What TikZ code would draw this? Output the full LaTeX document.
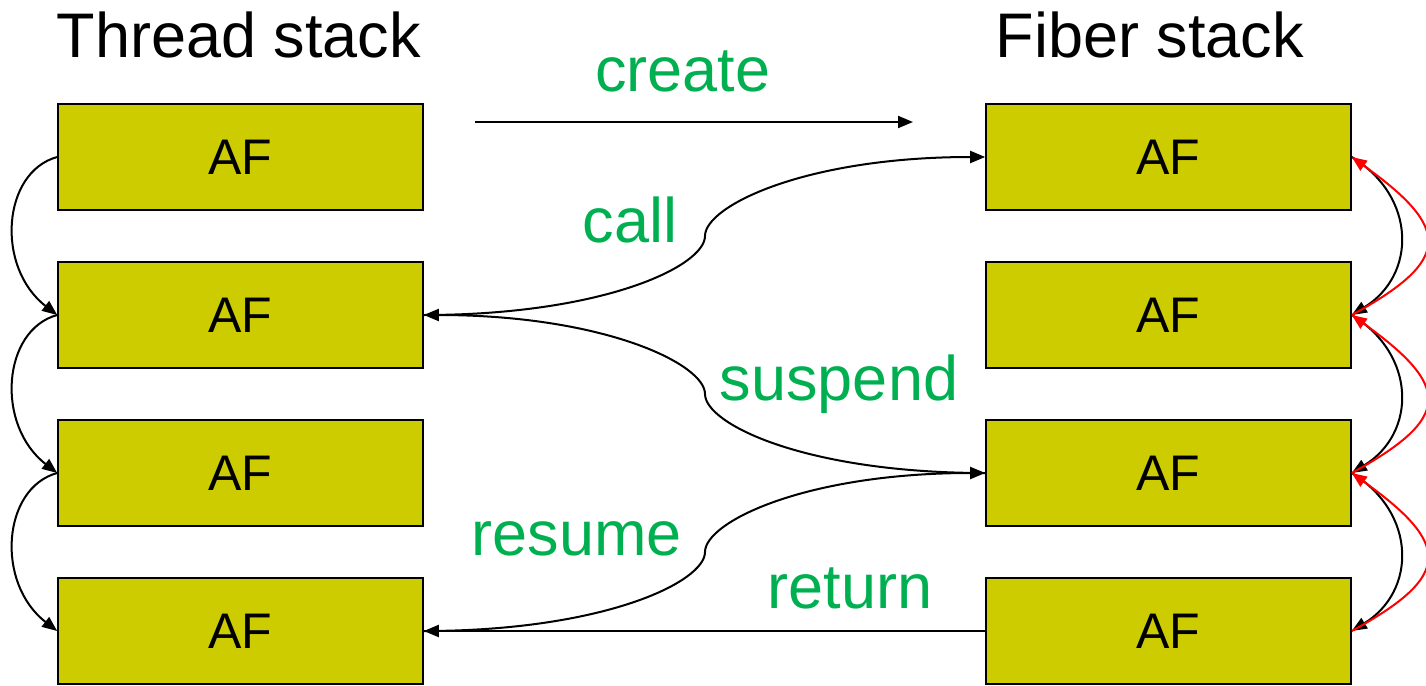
\documentclass[tikz,border=0pt]{standalone}
\usepackage{fontspec}
\setmainfont{Liberation Sans}
\usetikzlibrary{arrows.meta}
\definecolor{afill}{HTML}{CCCC00}
\definecolor{lblgreen}{HTML}{00B050}
\tikzset{
  frame/.style={draw=black, line width=1.6pt, fill=afill, minimum width=365pt,
    minimum height=106pt, inner sep=0pt, font=\fontsize{50}{56}\selectfont},
  title/.style={anchor=base, inner sep=0pt, font=\fontsize{63}{70}\selectfont},
  lbl/.style={anchor=base, inner sep=0pt, text=lblgreen, font=\fontsize{63}{70}\selectfont},
  conn/.style={line width=2pt, -{Triangle[length=15pt,width=12pt]}},
  back/.style={conn, draw=red, -{Triangle[length=15pt,width=12pt,fill=red]}}
}
\begin{document}
\begin{tikzpicture}[x=1pt, y=1pt]
\useasboundingbox (0,0) rectangle (1426,-685);

% headings
\node[title] (tt) at (239,-57) {Thread stack};
\node[title] (ft) at (1150,-57) {Fiber stack};

% activation frames of the thread stack
\node[frame] (L1) at (240.5,-157) {AF};
\node[frame] (L2) at (240.5,-315) {AF};
\node[frame] (L3) at (240.5,-473) {AF};
\node[frame] (L4) at (240.5,-631) {AF};

% activation frames of the fiber stack
\node[frame] (R1) at (1168.5,-157) {AF};
\node[frame] (R2) at (1168.5,-315) {AF};
\node[frame] (R3) at (1168.5,-473) {AF};
\node[frame] (R4) at (1168.5,-631) {AF};

% operation labels
\node[lbl] (lcreate) at (683,-92) {create};
\node[lbl] (lcall) at (630,-242) {call};
\node[lbl] (lsusp) at (839,-400) {suspend};
\node[lbl] (lres) at (577,-555) {resume};
\node[lbl] (lret) at (850,-608) {return};

% create arrow
\coordinate (cs) at (475,-122);
\coordinate (ce) at (913,-122);
\draw[conn] (cs) -- (ce);

% links inside the thread stack
\foreach \a/\b in {L1/L2, L2/L3, L3/L4}
  \draw[conn] (\a.west) .. controls +(-55,-15) and +(-62,48) .. (\b.west);

% links inside the fiber stack
\foreach \a/\b in {R1/R2, R2/R3, R3/R4}
  \draw[conn] (\a.east) .. controls +(65,-40) and +(65,40) .. (\b.east);
\foreach \a/\b in {R2/R1, R3/R2, R4/R3}
  \draw[back] (\a.east) .. controls +(100,55) and +(100,-72) .. (\b.east);

% switches between the stacks
\coordinate (mc) at (705,-236);
\coordinate (ms) at (705,-394);
\coordinate (mr) at (705,-552);
\draw[conn] (L2.east) .. controls +(180,0) and +(0,-30) .. (mc)
  .. controls +(0,30) and +(-180,0) .. (R1.west);
\draw[conn] (R3.west) .. controls +(-180,0) and +(0,-30) .. (ms)
  .. controls +(0,30) and +(180,0) .. (L2.east);
\draw[conn] (L4.east) .. controls +(180,0) and +(0,-30) .. (mr)
  .. controls +(0,30) and +(-180,0) .. (R3.west);
\draw[conn] (R4.west) -- (L4.east);
\end{tikzpicture}
\end{document}
